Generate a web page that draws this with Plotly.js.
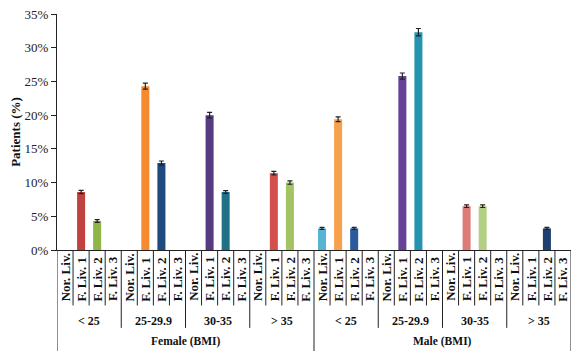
<!DOCTYPE html>
<html>
<head>
<meta charset="utf-8">
<script src="https://cdn.plot.ly/plotly-3.0.1.min.js"></script>
<style>html,body{margin:0;padding:0;overflow:hidden;background:#fff;}</style>
</head>
<body>
<div id="chart" style="width:571px;height:351px;"></div>
<script>
// ---- data ----
var subLabels = ['Nor. Liv.', 'F. Liv. 1', 'F. Liv. 2', 'F. Liv. 3'];
var bmiGroups = ['< 25', '25-29.9', '30-35', '> 35'];
var sexes = ['Female (BMI)', 'Male (BMI)'];
// percent of patients, in order: BMI group x liver class
var femaleValues = [0, 8.6, 4.3, 0,   0, 24.3, 12.9, 0,   0, 20.0, 8.6, 0,   0, 11.4, 10.0, 0];
var maleValues   = [3.2, 19.4, 3.2, 0, 0, 25.8, 32.3, 0,  0, 6.5, 6.5, 0,     0, 0, 3.2, 0];
var femaleErrors = [0, 0.25, 0.2, 0,  0, 0.45, 0.3, 0,    0, 0.4, 0.2, 0,    0, 0.25, 0.25, 0];
var maleErrors   = [0.15, 0.35, 0.15, 0, 0, 0.45, 0.55, 0, 0, 0.2, 0.2, 0,    0, 0, 0.15, 0];

// ---- style ----
var barColors = [
  '#fff', '#c0413e', '#8fb548', '#fff',
  '#fff', '#f58a2e', '#1f4a7e', '#fff',
  '#fff', '#573b80', '#1f7186', '#fff',
  '#fff', '#d4504c', '#a2c463', '#fff',
  '#56b5d2', '#f7a14f', '#2b5b9c', '#fff',
  '#fff', '#65439a', '#2595af', '#fff',
  '#fff', '#dc7b77', '#b3cf84', '#fff',
  '#fff', '#fff', '#1e3f70', '#fff'
];
var serif = "'Liberation Serif', 'Times New Roman', Times, serif";

var values = femaleValues.concat(maleValues);
var errors = femaleErrors.concat(maleErrors);
var nSub = subLabels.length, nGrp = bmiGroups.length;
var xs = [], ys = [], es = [], labs = [];
for (var i = 0; i < values.length; i++) {
  xs.push(i);
  ys.push(values[i] > 0 ? values[i] : null);
  es.push(errors[i]);
  labs.push(subLabels[i % nSub]);
}

var trace = {
  type: 'bar', x: xs, y: ys,
  marker: {color: barColors, line: {width: 0}},
  error_y: {type: 'data', array: es, visible: true, thickness: 1.2, width: 2.5, color: '#222'},
  hoverinfo: 'skip'
};

var annotations = [], shapes = [];
// sub labels
for (var i = 0; i < xs.length; i++) {
  annotations.push({xref: 'x', yref: 'paper', x: xs[i], y: -0.226, text: '<b>' + labs[i] + '</b>',
    textangle: -90, showarrow: false, xanchor: 'center', yanchor: 'bottom',
    font: {family: serif, size: 13, color: '#111'}});
}
// group labels
for (var s = 0; s < sexes.length; s++) {
  for (var g = 0; g < nGrp; g++) {
    var base = s * nGrp * nSub + g * nSub;
    annotations.push({xref: 'x', yref: 'paper', x: base + (nSub - 1) / 2, y: -0.30, text: '<b>' + bmiGroups[g] + '</b>',
      showarrow: false, xanchor: 'center', yanchor: 'middle',
      font: {family: serif, size: 12, color: '#111'}});
  }
  var sb = s * nGrp * nSub;
  annotations.push({xref: 'x', yref: 'paper', x: sb + (nGrp * nSub - 1) / 2, y: -0.387, text: '<b>' + sexes[s] + '</b>',
    showarrow: false, xanchor: 'center', yanchor: 'middle',
    font: {family: serif, size: 11.5, color: '#111'}});
}
// separators
for (var i = 0; i <= xs.length; i++) {
  var yb = -0.235;
  if (i % nSub === 0) yb = -0.33;
  if (i % (nSub * nGrp) === 0) yb = -0.43;
  shapes.push({type: 'line', xref: 'x', yref: 'paper', x0: i - 0.5, x1: i - 0.5, y0: 0, y1: yb,
    line: {color: '#222', width: 1}});
}

var layout = {
  width: 571, height: 351,
  margin: {l: 57, r: 0, t: 14, b: 101},
  paper_bgcolor: '#fff', plot_bgcolor: '#fff',
  font: {family: serif},
  showlegend: false,
  bargap: 0.5,
  xaxis: {range: [-0.5, xs.length - 0.5], showticklabels: false, ticks: '', showgrid: false,
    zeroline: false, showline: true, linecolor: '#222', linewidth: 1, fixedrange: true},
  yaxis: {range: [0, 35], dtick: 5, ticksuffix: '%', ticks: 'outside', ticklen: 5, tickcolor: '#222',
    showgrid: false, zeroline: false, showline: true, linecolor: '#222', linewidth: 1,
    tickfont: {family: serif, size: 13, color: '#222'},
    title: {text: '<b>Patients (%)</b>', standoff: 1, font: {family: serif, size: 13, color: '#111'}}},
  annotations: annotations,
  shapes: shapes
};

Plotly.newPlot('chart', [trace], layout, {displayModeBar: false, staticPlot: true});
</script>
</body>
</html>
